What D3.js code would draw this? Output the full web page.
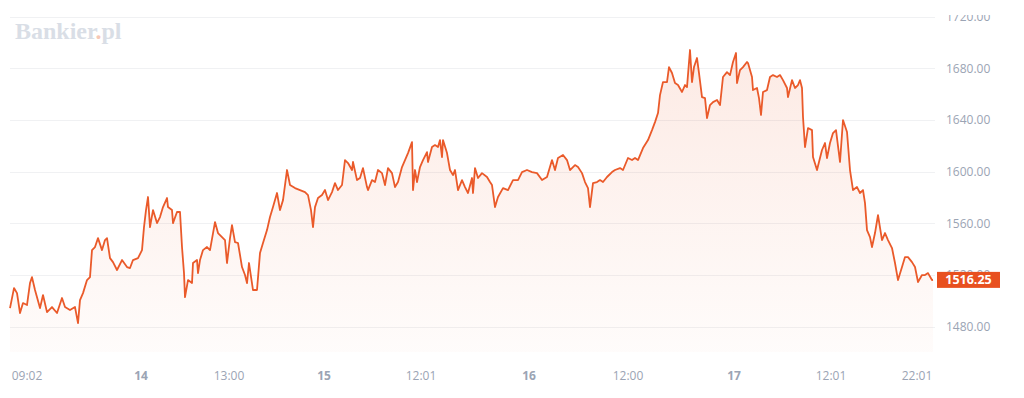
<!DOCTYPE html>
<html>
<head>
<meta charset="utf-8">
<script src="https://cdn.jsdelivr.net/npm/d3@7"></script>
<style>
  html, body { margin: 0; padding: 0; background: #fff; }
  #chart { width: 1024px; height: 398px; }
  text { font-family: "Open Sans", sans-serif; }
</style>
</head>
<body>
<div id="chart"></div>
<script>
// time in 7-minute steps from session start, price
var t = [0,4,7,10,13,17,20,22,25,30,33,37,42,47,52,55,60,65,68,70,73,77,80,82,85,88,92,95,97,100,103,107,112,117,120,123,128,132,134,136,138,140,143,147,150,153,157,158,162,163,167,170,172,174,175,178,182,183,187,188,190,193,197,200,205,208,212,215,217,220,222,225,228,232,235,237,239,243,247,250,253,257,260,263,267,270,273,277,280,285,290,295,298,301,303,305,308,312,315,318,322,325,328,332,335,338,342,343,347,350,353,357,358,362,365,368,372,375,378,382,385,388,392,395,398,402,403,405,407,410,413,417,418,422,425,428,430,432,433,437,440,443,445,448,452,455,458,462,463,465,468,472,477,480,482,485,488,493,498,503,508,512,517,522,527,532,537,542,545,548,553,557,560,565,568,572,575,578,580,583,587,590,593,597,602,605,610,613,618,622,625,628,633,638,642,645,648,650,653,657,659,662,665,668,672,675,677,680,682,684,687,689,692,695,697,700,703,707,710,713,717,720,723,726,727,730,733,737,738,742,743,747,749,751,753,757,760,763,767,770,773,777,778,782,785,788,790,792,793,795,798,802,803,807,812,815,817,820,823,826,830,833,837,840,843,847,850,853,855,857,860,862,865,868,872,875,878,882,885,888,892,895,898,902,905,908,912,915,918,922,923];
var price = [1494.4,1509.9,1506.0,1490.6,1498.3,1496.8,1513.8,1518.4,1508.4,1494.4,1504.5,1491.3,1495.2,1490.6,1502.2,1495.2,1492.9,1495.2,1482.8,1500.6,1506.0,1516.1,1518.4,1539.3,1541.7,1548.6,1539.3,1547.1,1548.6,1533.1,1530.0,1523.9,1531.6,1526.2,1525.4,1531.6,1533.1,1539.3,1557.1,1570.3,1580.4,1557.1,1570.3,1560.2,1564.9,1572.6,1579.6,1572.6,1570.3,1560.2,1568.8,1568.8,1541.7,1521.5,1502.9,1516.1,1513.8,1529.3,1531.6,1521.5,1531.6,1539.3,1541.7,1539.3,1561.0,1552.5,1549.4,1547.1,1529.3,1548.6,1558.7,1545.5,1544.8,1526.2,1520.0,1513.8,1529.3,1508.4,1508.4,1537.0,1544.8,1554.8,1564.9,1572.6,1583.5,1570.3,1578.0,1601.3,1589.7,1587.3,1585.8,1584.2,1581.9,1570.3,1557.1,1572.6,1579.6,1581.9,1585.8,1578.0,1584.2,1591.2,1585.8,1589.7,1609.0,1606.7,1601.3,1607.5,1593.5,1595.1,1602.8,1588.1,1585.8,1593.5,1592.0,1601.3,1598.9,1589.7,1602.8,1598.9,1588.1,1592.0,1603.6,1609.0,1614.4,1622.9,1585.8,1601.3,1592.0,1603.6,1609.0,1615.2,1607.5,1619.1,1620.6,1619.1,1624.5,1611.3,1624.5,1614.4,1601.3,1597.4,1601.3,1585.8,1593.5,1588.1,1583.5,1595.1,1583.5,1602.8,1595.1,1598.9,1595.9,1592.0,1589.7,1572.6,1580.4,1587.3,1585.8,1593.5,1593.5,1599.7,1601.3,1599.7,1598.9,1593.5,1595.9,1609.0,1601.3,1610.6,1612.9,1609.0,1601.3,1605.1,1603.6,1598.9,1592.0,1587.3,1572.6,1591.2,1592.0,1593.5,1592.0,1595.9,1599.7,1601.3,1602.8,1601.3,1610.6,1609.0,1610.6,1609.0,1618.3,1624.5,1632.2,1638.4,1645.4,1659.3,1669.4,1669.4,1681.0,1676.4,1668.6,1667.1,1661.7,1667.1,1665.5,1694.2,1669.4,1681.0,1688.0,1676.4,1657.8,1657.0,1641.5,1651.6,1653.9,1655.5,1651.6,1673.3,1677.1,1674.8,1684.9,1691.9,1668.6,1678.7,1681.0,1684.9,1684.1,1673.3,1663.2,1664.8,1657.0,1643.9,1661.7,1663.2,1673.3,1674.8,1673.3,1674.8,1670.9,1664.8,1657.8,1670.9,1664.8,1667.1,1670.9,1664.8,1642.3,1619.1,1633.8,1632.2,1611.3,1601.3,1616.8,1622.2,1610.6,1622.2,1629.9,1632.2,1607.5,1640.0,1630.7,1601.3,1585.8,1588.1,1583.5,1585.8,1575.7,1554.8,1549.4,1541.7,1552.5,1566.4,1547.1,1552.5,1547.1,1540.9,1529.3,1516.1,1526.2,1533.9,1533.9,1530.0,1526.2,1514.6,1520.0,1520.0,1521.5,1516.1,1516.25];

var yTicks = [1480, 1520, 1560, 1600, 1640, 1680, 1720];
var xTickT = [17, 131, 219, 314, 411, 519, 618, 724, 821, 907];
var xTickLabels = ["09:02", "14", "13:00", "15", "12:01", "16", "12:00", "17", "12:01", "22:01"];
var xTickBold = [false, true, false, true, false, true, false, true, false, false];
var lastPrice = 1516.25;

var W = 1024, H = 398;
var lineColor = "#ea5a2a";

var svg = d3.select("#chart").append("svg")
    .attr("width", W)
    .attr("height", H);

var defs = svg.append("defs");
var grad = defs.append("linearGradient")
    .attr("id", "areaGrad")
    .attr("gradientUnits", "userSpaceOnUse")
    .attr("x1", 0).attr("y1", 40).attr("x2", 0).attr("y2", 352);
grad.append("stop").attr("offset", "0%").attr("stop-color", lineColor).attr("stop-opacity", 0.13);
grad.append("stop").attr("offset", "100%").attr("stop-color", lineColor).attr("stop-opacity", 0.02);

defs.append("clipPath").attr("id", "topClip")
    .append("rect").attr("x", 0).attr("y", 15).attr("width", W).attr("height", H - 15);

var x = d3.scaleLinear()
    .domain([0, 923])
    .range([10, 933]);

var y = d3.scaleLinear()
    .domain([1480, 1720])
    .range([326.7, 16.7]);

var data = t.map(function(d, i) { return {t: d, v: price[i]}; });

// logo
var logo = svg.append("text")
    .attr("x", 15)
    .attr("y", 39)
    .style("font-family", "'Liberation Serif', serif")
    .style("font-weight", "bold")
    .style("font-size", "24px")
    .attr("fill", "#d9dee6");
logo.append("tspan").text("Bankier");
logo.append("tspan").attr("fill", "#f6c8b6").text(".");
logo.append("tspan").text("pl");

var g = svg.append("g").attr("clip-path", "url(#topClip)");

// grid lines
g.append("g")
    .selectAll("line")
    .data(yTicks)
    .enter().append("line")
    .attr("x1", 10)
    .attr("x2", 935)
    .attr("y1", function(d) { return Math.round(y(d)) + 0.5; })
    .attr("y2", function(d) { return Math.round(y(d)) + 0.5; })
    .attr("stroke", "#f0f1f3")
    .attr("stroke-width", 1);

// area + line
var area = d3.area()
    .x(function(d) { return x(d.t); })
    .y0(352)
    .y1(function(d) { return y(d.v); });

var line = d3.line()
    .x(function(d) { return x(d.t); })
    .y(function(d) { return y(d.v); });

g.append("path")
    .datum(data)
    .attr("fill", "url(#areaGrad)")
    .attr("d", area);

g.append("path")
    .datum(data)
    .attr("fill", "none")
    .attr("stroke", lineColor)
    .attr("stroke-width", 1.8)
    .attr("stroke-linejoin", "round")
    .attr("d", line);

// right axis
var yAxis = d3.axisRight(y)
    .tickValues(yTicks)
    .tickSize(0)
    .tickPadding(0)
    .tickFormat(d3.format(".2f"));

g.append("g")
    .attr("transform", "translate(946,0)")
    .call(yAxis)
    .call(function(a) { a.select(".domain").remove(); })
    .selectAll("text")
    .attr("fill", "#9ba4b4")
    .style("font-size", "12px")
    .style("font-family", "'Open Sans', sans-serif");

// bottom labels
svg.append("g")
    .selectAll("text")
    .data(xTickT)
    .enter().append("text")
    .attr("x", function(d) { return x(d); })
    .attr("y", 380)
    .attr("text-anchor", "middle")
    .attr("fill", "#9ba4b4")
    .style("font-size", "12px")
    .style("font-weight", function(d, i) { return xTickBold[i] ? "bold" : "normal"; })
    .text(function(d, i) { return xTickLabels[i]; });

// last price tag
var tag = svg.append("g")
    .attr("transform", "translate(937," + y(lastPrice) + ")");
tag.append("rect")
    .attr("x", 0)
    .attr("y", -8)
    .attr("width", 63)
    .attr("height", 16)
    .attr("fill", "#e8501f");
tag.append("text")
    .attr("x", 31.5)
    .attr("y", 4.5)
    .attr("text-anchor", "middle")
    .attr("fill", "#fff")
    .style("font-size", "12.5px")
    .style("font-weight", "bold")
    .text(d3.format(".2f")(lastPrice));
</script>
</body>
</html>
